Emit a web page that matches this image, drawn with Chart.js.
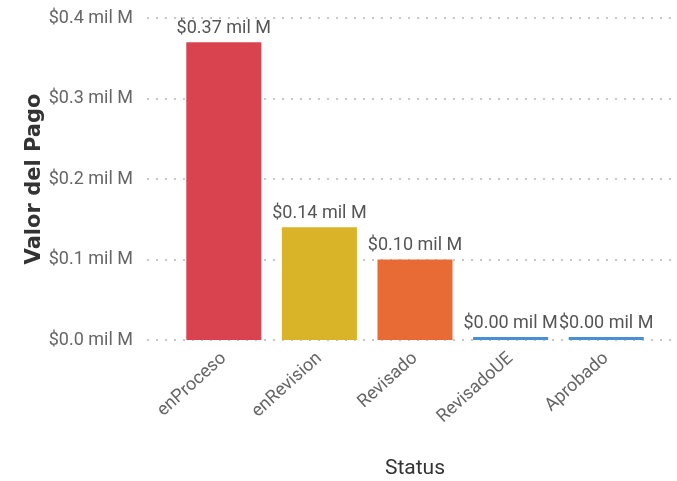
<!DOCTYPE html>
<html>
<head>
<meta charset="utf-8">
<script src="https://cdn.jsdelivr.net/npm/chart.js@4.4.1/dist/chart.umd.min.js"></script>
<style>
  html, body { margin: 0; padding: 0; background: #fff; }
  #wrap { width: 677px; height: 481px; }
</style>
</head>
<body>
<div id="wrap"><canvas id="pagos" width="677" height="481"></canvas></div>
<script>
// valores del pago por status (miles de millones)
const statusLabels = ['enProceso', 'enRevision', 'Revisado', 'RevisadoUE', 'Aprobado'];
const pagoValues = [0.37, 0.14, 0.10, 0.00, 0.00];
const barColors = ['#D9434F', '#D9B429', '#E86B35', '#4A8FD6', '#4A8FD6'];
const yTicks = [0, 0.1, 0.2, 0.3, 0.4];

const labelFont = '"Roboto", "Liberation Sans", sans-serif';

const fmt = (v, dec) => '$' + v.toFixed(dec) + ' mil M';

// dotted grid lines that run past the plot area
const dottedGrid = {
  id: 'dottedGrid',
  beforeDatasetsDraw(chart) {
    const ctx = chart.ctx;
    const y = chart.scales.y;
    ctx.save();
    ctx.fillStyle = '#c8c8c8';
    yTicks.forEach(t => {
      const py = Math.round(y.getPixelForValue(t));
      for (let x = 147; x < 677; x += 9) {
        ctx.fillRect(x, py - 1, 2, 2);
      }
    });
    ctx.restore();
  }
};

// value labels on top of each bar
const valueLabels = {
  id: 'valueLabels',
  afterDatasetsDraw(chart) {
    const ctx = chart.ctx;
    const meta = chart.getDatasetMeta(0);
    ctx.save();
    ctx.font = '18px ' + labelFont;
    ctx.fillStyle = '#555';
    ctx.textAlign = 'center';
    ctx.textBaseline = 'bottom';
    meta.data.forEach((bar, i) => {
      ctx.fillText(fmt(pagoValues[i], 2), bar.x, bar.y - 5);
    });
    ctx.restore();
  }
};

new Chart(document.getElementById('pagos'), {
  type: 'bar',
  data: {
    labels: statusLabels,
    datasets: [{
      label: 'Valor del Pago',
      data: pagoValues,
      backgroundColor: barColors,
      borderWidth: 0,
      minBarLength: 3,
      categoryPercentage: 1,
      barPercentage: 0.785
    }]
  },
  options: {
    responsive: false,
    animation: false,
    layout: { padding: { top: 18, right: 23, bottom: 0, left: 0 } },
    plugins: {
      legend: { display: false },
      tooltip: { enabled: false }
    },
    scales: {
      x: {
        grid: { display: false, drawTicks: false },
        border: { display: false },
        afterFit(scale) { scale.height = 141; },
        ticks: {
          color: '#666',
          font: { family: labelFont, size: 18 },
          maxRotation: 42,
          minRotation: 42,
          padding: 8
        },
        title: {
          display: true,
          text: 'Status',
          color: '#333',
          font: { family: labelFont, size: 21 },
          padding: { top: 0, bottom: 0 }
        }
      },
      y: {
        min: 0,
        max: 0.4,
        grid: { display: false, drawTicks: false },
        border: { display: false },
        afterFit(scale) {
          scale.width = 176;
          scale.paddingTop = 0;
          scale.paddingBottom = 0;
        },
        afterBuildTicks(scale) { scale.ticks = yTicks.map(v => ({ value: v })); },
        ticks: {
          color: '#666',
          font: { family: labelFont, size: 18 },
          padding: 43,
          callback: v => fmt(v, 1)
        },
        title: {
          display: true,
          text: 'Valor del Pago',
          color: '#333',
          font: { family: '"DejaVu Sans", sans-serif', size: 21, weight: 'bold' },
          padding: { top: 22, bottom: 0 }
        }
      }
    }
  },
  plugins: [dottedGrid, valueLabels]
});
</script>
</body>
</html>
